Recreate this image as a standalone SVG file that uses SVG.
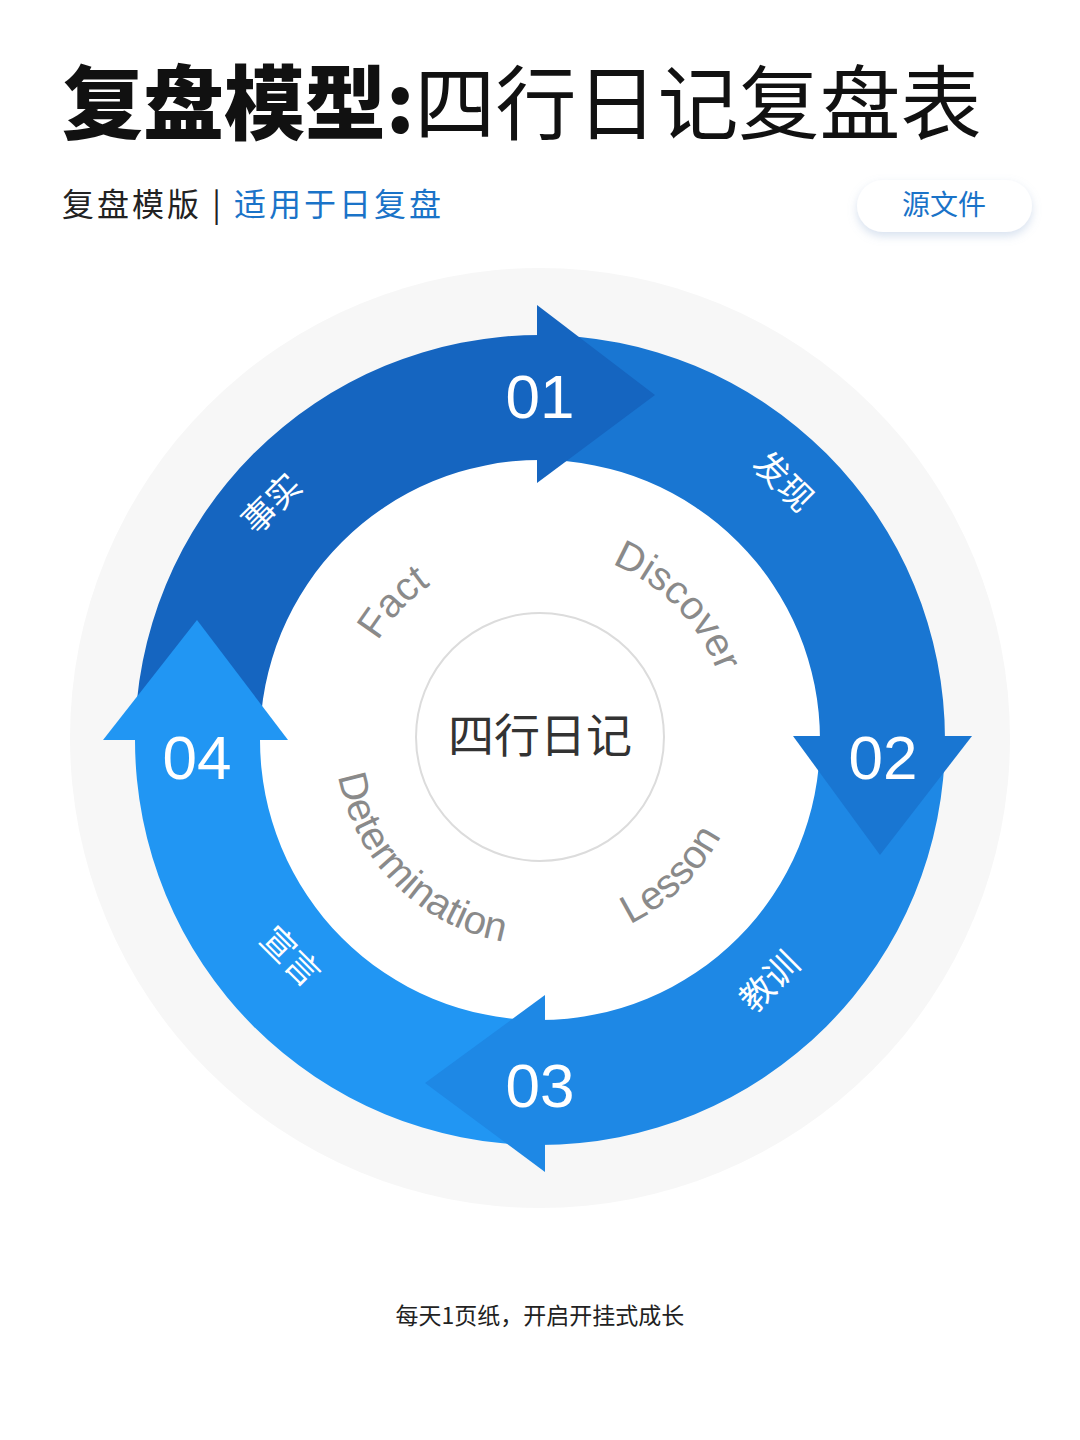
<svg xmlns="http://www.w3.org/2000/svg" width="1080" height="1440" viewBox="0 0 1080 1440">
<style>
.cn{font-family:"Noto Sans CJK SC","Noto Sans",sans-serif}
.num{font-family:"Liberation Sans",Arial,sans-serif;font-size:62px;fill:#fff;text-anchor:middle}
.lab{font-family:"Noto Sans CJK SC",sans-serif;font-size:34px;fill:#fff;text-anchor:middle}
.en{font-family:"Liberation Sans",Arial,sans-serif;font-size:40px;fill:#8a8a8a}
</style>
<defs>
<filter id="sh" x="-20%" y="-40%" width="140%" height="200%"><feDropShadow dx="0" dy="4" stdDeviation="5" flood-color="#8aa8d0" flood-opacity="0.35"/></filter>
<path id="topArc" d="M350 740 A190 190 0 0 1 730 740"/>
<path id="botArc" d="M335 740 A205 205 0 0 0 745 740"/>
</defs>
<rect width="1080" height="1440" fill="#fff"/>
<text x="62" y="133" class="cn" font-size="81" font-weight="900" fill="#111">复盘模型:<tspan font-weight="400">四行日记复盘表</tspan></text>
<text x="62" y="216" class="cn" font-size="32" fill="#222" letter-spacing="3">复盘模版 <tspan>|</tspan> <tspan fill="#1a73c8">适用于日复盘</tspan></text>
<g id="btn"><rect x="857" y="180" width="175" height="52" rx="26" fill="#fff" filter="url(#sh)"/><text x="944" y="215" class="cn" font-size="28" fill="#1a73c8" text-anchor="middle">源文件</text></g>
<circle cx="540" cy="738" r="470" fill="#f7f7f7"/>
<circle cx="540" cy="740" r="290" fill="#fff"/>
<g id="connectors">
<path id="s1" d="M135 740 A405 405 0 0 1 540 335 L540 460 A280 280 0 0 0 260 740 Z" fill="#1565c0"/>
<path id="s2" d="M540 335 A405 405 0 0 1 945 740 L820 740 A280 280 0 0 0 540 460 Z" fill="#1976d2"/>
<path id="s3" d="M945 740 A405 405 0 0 1 540 1145 L540 1020 A280 280 0 0 0 820 740 Z" fill="#1e88e5"/>
<path id="s4" d="M540 1145 A405 405 0 0 1 135 740 L260 740 A280 280 0 0 0 540 1020 Z" fill="#2196f3"/>
<polygon points="537,305 655,395 537,483" fill="#1565c0"/>
<polygon points="793,736 972,736 880,855" fill="#1976d2"/>
<polygon points="545,995 425,1083 545,1172" fill="#1e88e5"/>
<polygon points="103,740 288,740 197,620" fill="#2196f3"/>
</g>
<g id="n1"><text x="540" y="418" class="num">01</text><text class="lab" transform="translate(280,512) rotate(-45)">事实</text></g>
<g id="n2"><text x="883" y="779" class="num">02</text><text class="lab" transform="translate(775,490) rotate(45)">发现</text></g>
<g id="n3"><text x="540" y="1107" class="num">03</text><text class="lab" transform="translate(778,990) rotate(-45)">教训</text></g>
<g id="n4"><text x="197" y="779" class="num">04</text><text class="lab" transform="translate(282,965) rotate(45)">宣言</text></g>
<g id="center"><circle cx="540" cy="737" r="124" fill="#fff" stroke="#dcdcdc" stroke-width="2"/><text x="540" y="752" class="cn" font-size="46" fill="#333" text-anchor="middle">四行日记</text></g>
<g id="eng">
<text class="en"><textPath href="#topArc" startOffset="104">Fact</textPath></text>
<text class="en"><textPath href="#topArc" startOffset="372">Discover</textPath></text>
<text class="en"><textPath href="#botArc" startOffset="36">Determination</textPath></text>
<text class="en"><textPath href="#botArc" startOffset="415">Lesson</textPath></text>
</g>
<text x="540" y="1324" class="cn" font-size="23" fill="#222" text-anchor="middle">每天1页纸，开启开挂式成长</text>
</svg>
